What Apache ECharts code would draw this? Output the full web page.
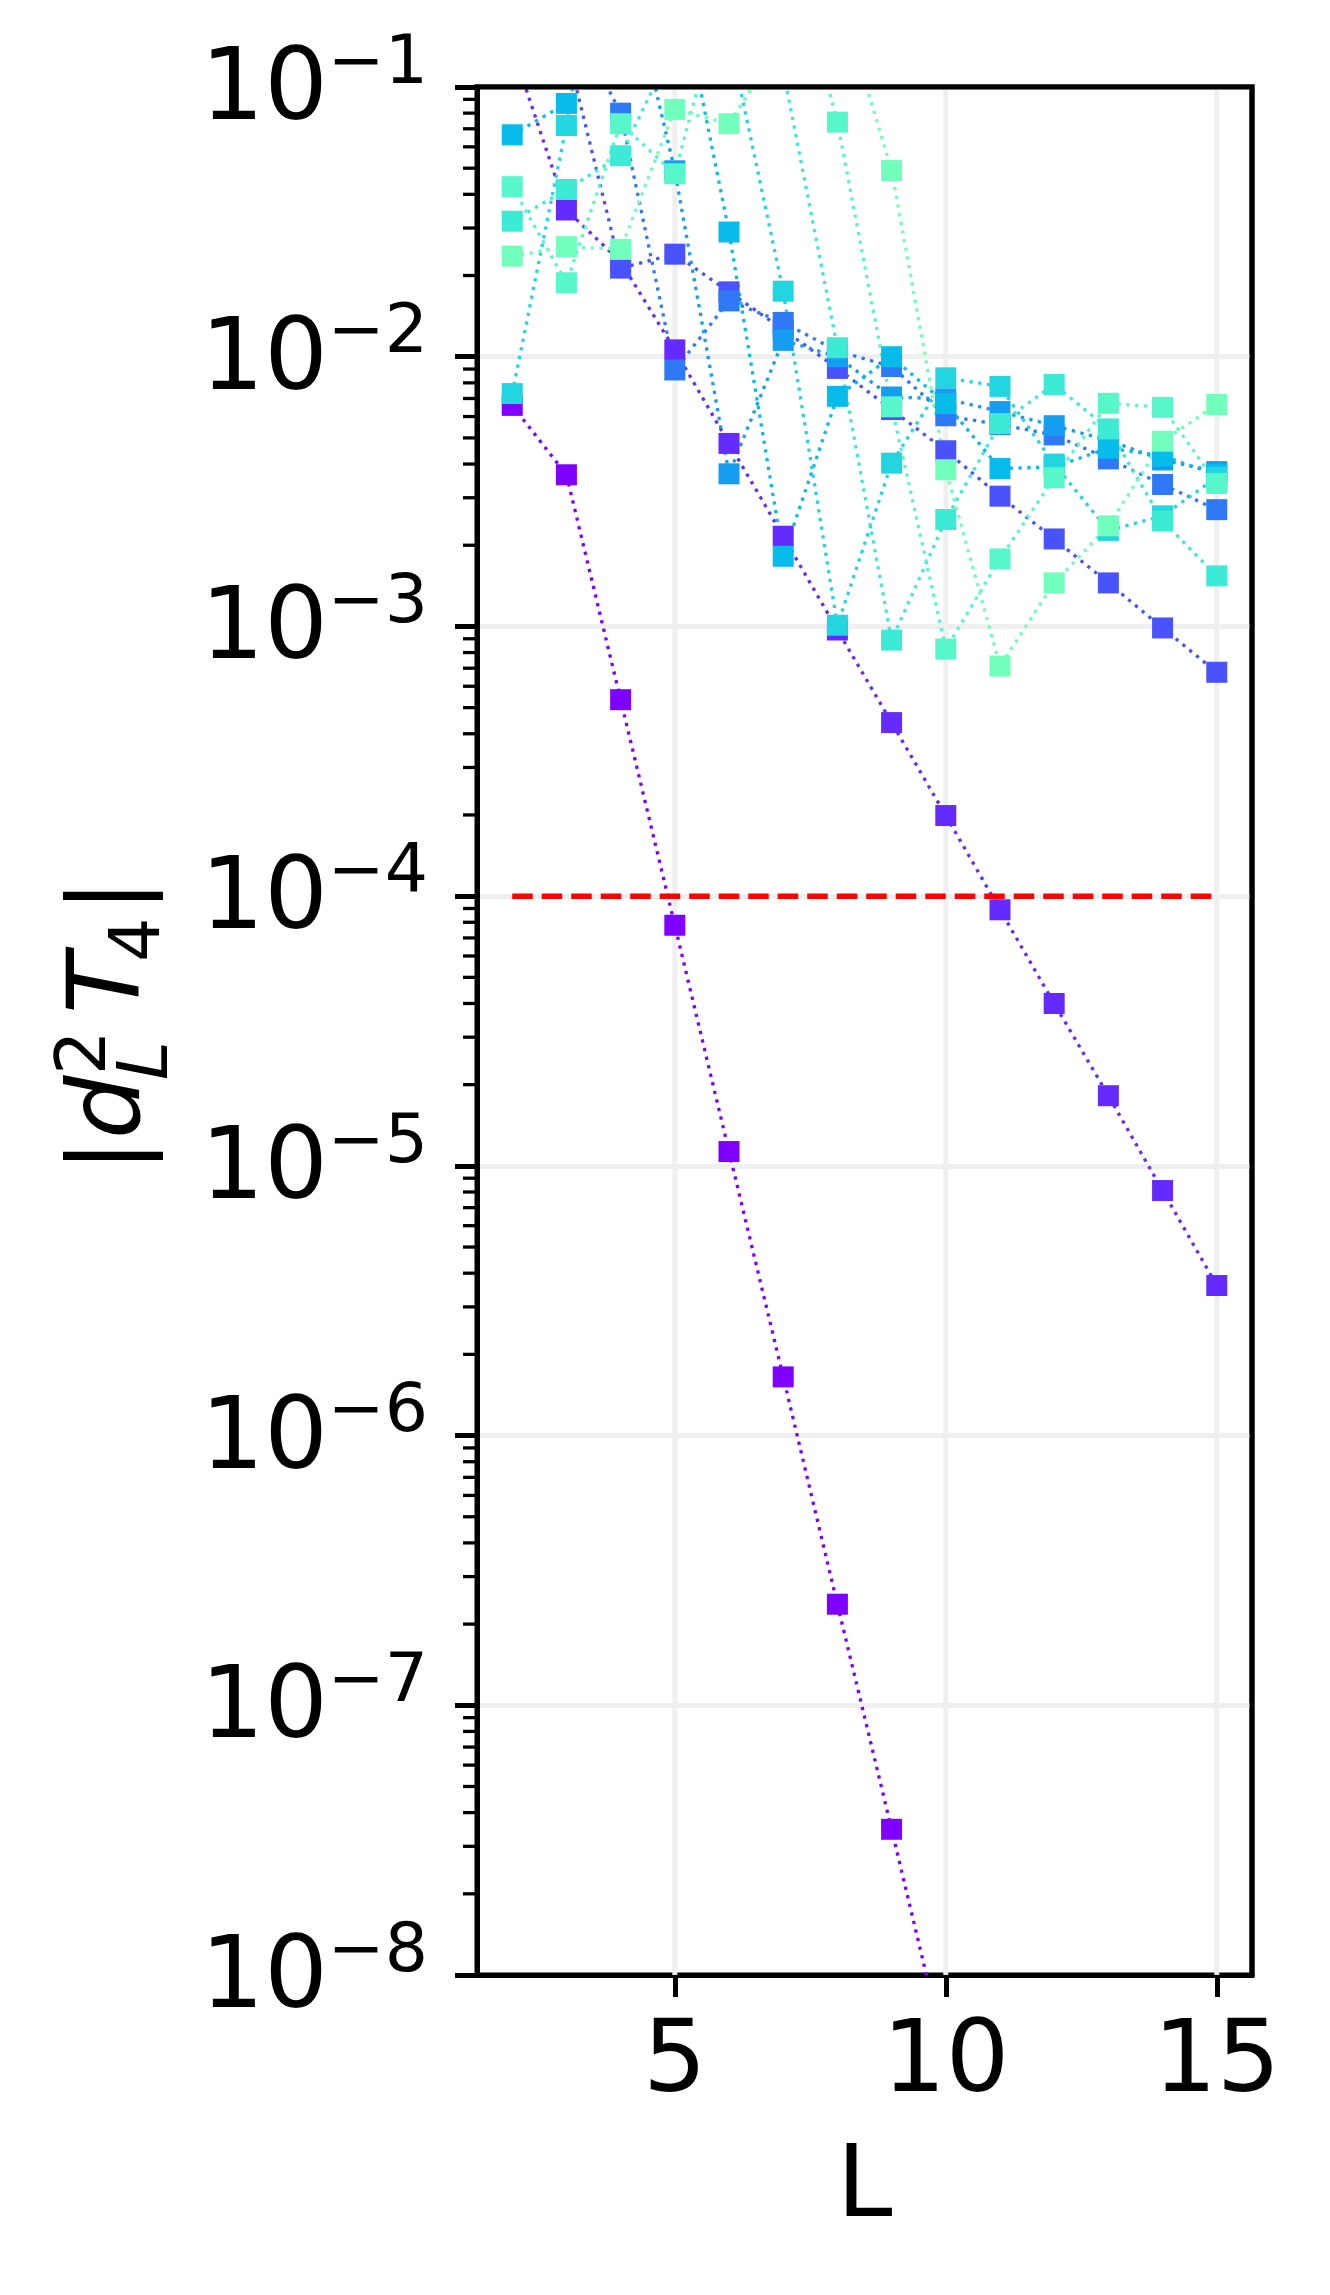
<!DOCTYPE html>
<html lang="en">
<head>
    <meta charset="UTF-8">
    <title>d2T4</title>
    <script src="https://cdn.jsdelivr.net/npm/echarts@6/dist/echarts.min.js"></script>
    <style>
        *{
            margin: 0;
            padding: 0;
        }
        html,body{
            width: 100%;
            height: 100%;
            background: #fff;
        }
        .container{
            width: 1330px;
            height: 2295px;
        }
    </style>
</head>
<body>
<div class="container"></div>
<script>
    // system sizes L and the |d_L^2 T_4| curves (one per parameter value)
    let Ls = [2, 3, 4, 5, 6, 7, 8, 9, 10, 11, 12, 13, 14, 15];
    let s0 = [6.6e-3, 3.65e-3, 5.35e-4, 7.8e-5, 1.13e-5, 1.65e-6, 2.37e-7, 3.47e-8, 5.0e-9, 7.2e-10, 1.0e-10, 1.5e-11, 2.1e-12, 3.0e-13];
    let s1 = [0.14, 3.5e-2, 2.25e-2, 1.06e-2, 4.77e-3, 2.16e-3, 9.7e-4, 4.4e-4, 1.99e-4, 8.9e-5, 4.0e-5, 1.82e-5, 8.1e-6, 3.6e-6];
    let s2 = [0.5, 0.14, 2.13e-2, 2.4e-2, 1.74e-2, 1.26e-2, 9.05e-3, 6.37e-3, 4.48e-3, 3.04e-3, 2.11e-3, 1.45e-3, 9.87e-4, 6.76e-4];
    let s3 = [0.4, 0.2, 8.0e-2, 8.93e-3, 1.61e-2, 1.34e-2, 1.05e-2, 9.2e-3, 6.04e-3, 5.6e-3, 5.13e-3, 4.18e-3, 3.36e-3, 2.71e-3];
    let s4 = [0.105, 0.25, 0.35, 4.89e-2, 3.68e-3, 1.15e-2, 1.0e-2, 7.09e-3, 6.98e-3, 6.26e-3, 5.55e-3, 4.9e-3, 4.14e-3, 3.75e-3];
    let s5 = [6.65e-2, 8.69e-2, 0.2, 0.29, 2.9e-2, 1.82e-3, 7.13e-3, 1.0e-2, 6.7e-3, 3.85e-3, 3.9e-3, 4.58e-3, 4.29e-3, 3.65e-3];
    let s6 = [7.3e-3, 7.2e-2, 1.2, 0.3, 0.155, 1.75e-2, 1.01e-3, 4.03e-3, 8.35e-3, 7.76e-3, 4.0e-3, 2.27e-3, 2.57e-3, 3.57e-3];
    let s7 = [3.18e-2, 4.17e-2, 5.56e-2, 0.145, 0.2, 0.115, 1.08e-2, 8.9e-4, 2.49e-3, 5.65e-3, 7.89e-3, 5.4e-3, 2.46e-3, 1.54e-3];
    let s8 = [4.27e-2, 1.88e-2, 7.31e-2, 4.77e-2, 0.27, 0.42, 7.41e-2, 6.52e-3, 8.24e-4, 1.78e-3, 3.56e-3, 6.72e-3, 6.49e-3, 3.39e-3];
    let s9 = [2.36e-2, 2.56e-2, 2.5e-2, 8.26e-2, 7.31e-2, 0.15, 0.23, 4.9e-2, 3.81e-3, 7.13e-4, 1.45e-3, 2.36e-3, 4.86e-3, 6.65e-3];
    let curves = [s0, s1, s2, s3, s4, s5, s6, s7, s8, s9];

    // rainbow colormap steps
    let colors = ['#8000ff', '#652afe', '#4a53fb', '#2f79f7', '#149df1', '#07bcea', '#22d5e0', '#3cead5', '#57f7c9', '#72febc'];

    let threshold = 1e-4;
    let thresholdRange = [2, 15];
    let xTicks = [5, 10, 15];
    let yTicks = [1e-8, 1e-7, 1e-6, 1e-5, 1e-4, 1e-3, 1e-2, 1e-1];

    let xMin = 1.35, xMax = 15.65;
    let yMin = 1e-8, yMax = 1e-1;

    // minor log ticks 2..9 x 10^k
    let minorTicks = [];
    for (let e = -8; e < -1; e++) {
        for (let k = 2; k <= 9; k++) {
            minorTicks.push(k * Math.pow(10, e));
        }
    }

    let container = document.querySelector('.container');
    let chart = echarts.init(container);

    let font = '"DejaVu Sans", sans-serif';

    let series = [];

    // vertical grid lines at the x ticks
    series.push({
        type: 'custom',
        silent: true,
        z: 1,
        clip: false,
        data: xTicks.map(v => [v]),
        renderItem: function (params, api) {
            let p0 = api.coord([api.value(0), yMin]);
            let p1 = api.coord([api.value(0), yMax]);
            return {
                type: 'line',
                shape: {x1: p0[0], y1: p0[1], x2: p1[0], y2: p1[1]},
                style: {stroke: '#efefef', lineWidth: 5}
            };
        }
    });

    curves.forEach((vals, i) => {
        series.push({
            type: 'line',
            z: 3,
            data: Ls.map((l, j) => [l, vals[j]]),
            symbol: 'rect',
            symbolSize: 21,
            showAllSymbol: true,
            itemStyle: {color: colors[i]},
            lineStyle: {color: colors[i], width: 3.3, type: [3.3, 5.5]},
            emphasis: {disabled: true},
            clip: true
        });
    });

    series.push({
        type: 'line',
        z: 4,
        data: thresholdRange.map(l => [l, threshold]),
        showSymbol: false,
        symbol: 'none',
        lineStyle: {color: '#ff0000', width: 5.5, type: [20.5, 9]},
        emphasis: {disabled: true}
    });

    // minor ticks on the log axis
    series.push({
        type: 'custom',
        silent: true,
        z: 5,
        clip: false,
        data: minorTicks.map(v => [xMin, v]),
        renderItem: function (params, api) {
            let p = api.coord([api.value(0), api.value(1)]);
            return {
                type: 'line',
                shape: {x1: p[0] - 14, y1: p[1], x2: p[0], y2: p[1]},
                style: {stroke: '#000', lineWidth: 3.3}
            };
        }
    });

    // top and right spines, drawn above the split lines
    series.push({
        type: 'custom',
        silent: true,
        z: 6,
        clip: false,
        data: [[xMax, yMax]],
        renderItem: function (params, api) {
            let tl = api.coord([xMin, yMax]);
            let tr = api.coord([xMax, yMax]);
            let br = api.coord([xMax, yMin]);
            return {
                type: 'polyline',
                shape: {points: [[tl[0] - 2.5, tl[1]], tr, [br[0], br[1] + 2.5]]},
                style: {stroke: '#000', lineWidth: 5, fill: null, lineJoin: 'miter'}
            };
        }
    });

    let option = {
        backgroundColor: '#fff',
        animation: false,
        textStyle: {fontFamily: font},
        grid: {
            left: 477,
            top: 87,
            right: 78,
            bottom: 320,
            show: true,
            borderColor: '#000',
            borderWidth: 5,
            backgroundColor: 'transparent'
        },
        xAxis: {
            type: 'value',
            min: xMin,
            max: xMax,
            name: 'L',
            nameLocation: 'middle',
            nameGap: 165,
            nameTextStyle: {fontSize: 100, color: '#000', fontFamily: font},
            axisLine: {show: true, lineStyle: {color: '#000', width: 5}},
            axisTick: {show: true, inside: false, length: 22, customValues: xTicks, lineStyle: {color: '#000', width: 5}},
            axisLabel: {show: true, customValues: xTicks, fontSize: 100, color: '#000', margin: 40, fontFamily: font},
            splitLine: {show: false}
        },
        yAxis: {
            type: 'log',
            logBase: 10,
            min: yMin,
            max: yMax,
            axisLine: {show: true, lineStyle: {color: '#000', width: 5}},
            axisTick: {show: true, inside: false, length: 22, customValues: yTicks, lineStyle: {color: '#000', width: 5}},
            axisLabel: {
                show: true,
                customValues: yTicks,
                margin: 49,
                color: '#000',
                formatter: function (v) {
                    let e = Math.round(Math.log10(v));
                    return '{b|10}{s|\u2212' + (-e) + '}';
                },
                rich: {
                    b: {fontSize: 100, fontFamily: font, color: '#000', verticalAlign: 'bottom'},
                    s: {fontSize: 68, fontFamily: font, color: '#000', verticalAlign: 'bottom', padding: [0, 0, 44, 0]}
                }
            },
            splitLine: {show: true, lineStyle: {color: '#efefef', width: 5}}
        },
        graphic: [{
            type: 'group',
            x: 148,
            y: 1026,
            rotation: Math.PI / 2,
            silent: true,
            children: [
                {type: 'text', x: -130, y: -34.6, style: {text: '|', font: '100px ' + font, fill: '#000', align: 'center', verticalAlign: 'middle'}},
                {type: 'text', x: -113, y: -34.6, style: {text: 'd', font: 'italic 100px ' + font, fill: '#000', align: 'left', verticalAlign: 'middle'}},
                {type: 'text', x: -49, y: -61, style: {text: '2', font: '70px ' + font, fill: '#000', align: 'left', verticalAlign: 'middle'}},
                {type: 'text', x: -54, y: 0.8, style: {text: 'L', font: 'italic 70px ' + font, fill: '#000', align: 'left', verticalAlign: 'middle'}},
                {type: 'text', x: 12, y: -34.6, style: {text: 'T', font: 'italic 100px ' + font, fill: '#000', align: 'left', verticalAlign: 'middle'}},
                {type: 'text', x: 64, y: -7.2, style: {text: '4', font: '70px ' + font, fill: '#000', align: 'left', verticalAlign: 'middle'}},
                {type: 'text', x: 130, y: -34.6, style: {text: '|', font: '100px ' + font, fill: '#000', align: 'center', verticalAlign: 'middle'}}
            ]
        }],
        series
    };
    chart.setOption(option);
</script>
</body>
</html>
